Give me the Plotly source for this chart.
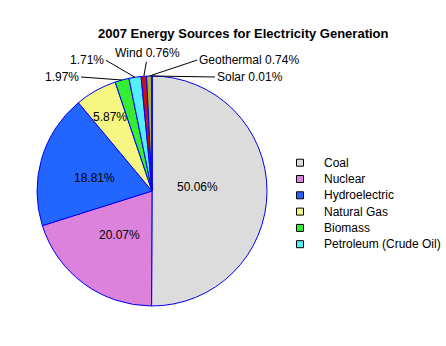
import numpy as np
import plotly.graph_objects as go

# ---- data ----
labels = ["Coal", "Nuclear", "Hydroelectric", "Natural Gas", "Biomass",
          "Petroleum (Crude Oil)", "Wind", "Geothermal", "Solar"]
values = [50.06, 20.07, 18.81, 5.87, 1.97, 1.71, 0.76, 0.74, 0.01]
colors = ["#dcdcdc", "#dc82dc", "#2266ff", "#f5f582", "#33ee33",
          "#55eeff", "#cc1111", "#a8b040", "#ffaa00"]
legend_items = labels[:6]
outside_names = ["", "", "", "", "", "", "Wind ", "Geothermal ", "Solar "]
title_text = "2007 Energy Sources for Electricity Generation"

# ---- layout helpers (pixel -> paper) ----
W, H = 446, 346
CX, CY, R = 152, 191, 115
def px(x): return x / W
def py(y): return 1 - y / H

FONT = "Liberation Sans, Arial, sans-serif"
pct = [f"{v:.2f}%" for v in values]

fig = go.Figure()
fig.add_trace(go.Pie(
    labels=labels, values=values, sort=False, direction="clockwise", rotation=0,
    marker=dict(colors=colors, line=dict(color="#0000ee", width=1)),
    textinfo="none", hoverinfo="skip", showlegend=False,
    domain=dict(x=[px(CX - R), px(CX + R)], y=[py(CY + R), py(CY - R)]),
))

total = sum(values)
cum = np.cumsum([0] + values[:-1])
mid = [(c + v / 2) / total * 2 * np.pi for c, v in zip(cum, values)]

annotations = []
# inside percentage labels: placed along each slice's mid-angle (radial fraction = style)
inside_frac = {0: (0.40, -4), 1: (0.48, 0), 2: (0.52, 4), 3: (0.74, 0)}
for i, (f, ddy) in inside_frac.items():
    tx = CX + f * R * np.sin(mid[i])
    ty = CY - f * R * np.cos(mid[i]) + ddy
    annotations.append(dict(x=px(tx), y=py(ty), xref="paper", yref="paper",
                            text=pct[i], showarrow=False, xanchor="center",
                            yanchor="middle",
                            font=dict(family=FONT, size=12, color="#000000")))

# outside labels with leader lines, pointing at slice mid-angle on the rim
offsets = {4: (-41, -3, "right"), 5: (-29, -17, "right"), 6: (4, -23, "center"),
           7: (48, -16, "left"), 8: (63, 1, "left")}
for i, (dx, dy, anc) in offsets.items():
    ex = CX + R * np.sin(mid[i])
    ey = CY - R * np.cos(mid[i])
    annotations.append(dict(
        x=px(ex), y=py(ey), xref="paper", yref="paper",
        ax=dx, ay=dy, axref="pixel", ayref="pixel",
        text=outside_names[i] + pct[i], showarrow=True, arrowhead=0,
        arrowwidth=1, arrowcolor="#000000", xanchor=anc, yanchor="middle",
        font=dict(family=FONT, size=12, color="#000000")))

# manual legend
LX, LY0, LDY, SQ = 300, 162.7, 16.3, 7
shapes = []
for k, name in enumerate(legend_items):
    yc = LY0 + k * LDY
    shapes.append(dict(type="rect", xref="paper", yref="paper",
                       x0=px(LX - SQ / 2), x1=px(LX + SQ / 2),
                       y0=py(yc + SQ / 2), y1=py(yc - SQ / 2),
                       fillcolor=colors[k], line=dict(color="#000000", width=1)))
    annotations.append(dict(x=px(322), y=py(yc), xref="paper", yref="paper",
                            text=name, showarrow=False, xanchor="left", yanchor="middle",
                            font=dict(family=FONT, size=12, color="#000000")))

annotations.append(dict(x=px(243.5), y=py(33.5), xref="paper", yref="paper",
                        text="<b>" + title_text + "</b>", showarrow=False,
                        xanchor="center", yanchor="middle",
                        font=dict(family=FONT, size=13, color="#000000")))

fig.update_layout(
    width=W, height=H, margin=dict(l=0, r=0, t=0, b=0),
    paper_bgcolor="#ffffff", plot_bgcolor="#ffffff",
    showlegend=False, annotations=annotations, shapes=shapes,
)
fig.write_html("out.html")
